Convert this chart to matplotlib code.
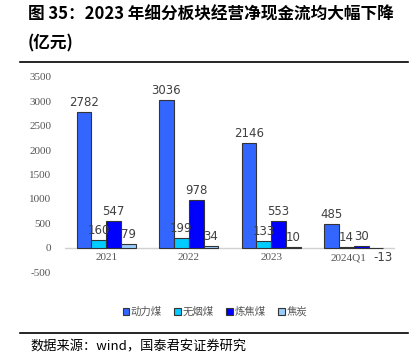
import matplotlib
matplotlib.use("Agg")
import matplotlib.pyplot as plt
import numpy as np

plt.rcParams['font.family'] = ['Noto Sans CJK SC', 'DejaVu Sans']

categories = ['2021', '2022', '2023', '2024Q1']
series_names = ['动力煤', '无烟煤', '炼焦煤', '焦炭']
thermal = [2782, 3036, 2146, 485]
anthracite = [160, 199, 133, 14]
coking_coal = [547, 978, 553, 30]
coke = [79, 34, 10, -13]
colors = ['#3366FF', '#00CCFF', '#0000FF', '#99CCFF']
yticks = [-500, 0, 500, 1000, 1500, 2000, 2500, 3000, 3500]

fig = plt.figure(figsize=(4.19, 3.55), dpi=100)
ax = fig.add_axes([65 / 419, 1 - 272 / 355, 330 / 419, (272 - 77) / 355])

x = np.arange(len(categories))
width = 0.18
all_series = [thermal, anthracite, coking_coal, coke]
for i, vals in enumerate(all_series):
    pos = x + (i - 1.5) * width
    ax.bar(pos, vals, width, color=colors[i], edgecolor='#333333', linewidth=0.8,
           label=series_names[i], zorder=2)
    for p, v in zip(pos, vals):
        if v >= 0:
            ax.text(p, v + 60, str(v), ha='center', va='bottom', fontsize=8.5,
                    color='#404040', family='DejaVu Sans')
        else:
            # negative label sits below the bar, nudged right of the axis label
            ax.text(p + 0.08, v - 50, str(v), ha='center', va='top', fontsize=8.5,
                    color='#404040', family='DejaVu Sans')

ax.set_xlim(-0.5, len(categories) - 0.5)
ax.set_ylim(-500, 3500)
ax.set_yticks(yticks)
ax.set_yticklabels([str(t) for t in yticks], family='Liberation Serif', fontsize=8, color='#555555')
ax.axhline(0, color='#d0d0d0', linewidth=1, zorder=1)
ax.set_xticks([])
for xi, c in zip(x, categories):
    ax.text(xi - (0.06 if c == '2024Q1' else 0), -120, c, ha='center', va='top',
            family='Liberation Serif', fontsize=8, color='#555555')
for s in ax.spines.values():
    s.set_visible(False)
ax.tick_params(axis='y', length=0, pad=10)

fig.legend(loc='center', bbox_to_anchor=(215 / 419, 1 - 312 / 355), ncol=4, frameon=False,
           fontsize=7.5, handlelength=0.6, handleheight=0.6, handletextpad=0.2, columnspacing=1.2,
           labelcolor='#555555')

fig.text(28 / 419, 1 - 15 / 355, '图 35：2023 年细分板块经营净现金流均大幅下降', fontsize=12,
         fontweight='bold', va='center', ha='left')
fig.text(28 / 419, 1 - 43 / 355, '(亿元)', fontsize=12, fontweight='bold', va='center', ha='left')
fig.add_artist(plt.Line2D([20 / 419, 408 / 419], [1 - 62 / 355, 1 - 62 / 355], color='black', linewidth=1.2))
fig.add_artist(plt.Line2D([20 / 419, 408 / 419], [1 - 333 / 355, 1 - 333 / 355], color='black', linewidth=1.2))
fig.text(30 / 419, 1 - 347 / 355, '数据来源：wind，国泰君安证券研究', fontsize=9.5, va='center', ha='left',
         family=['Noto Sans CJK SC', 'Liberation Serif'])

fig.savefig('out.png', dpi=100)
